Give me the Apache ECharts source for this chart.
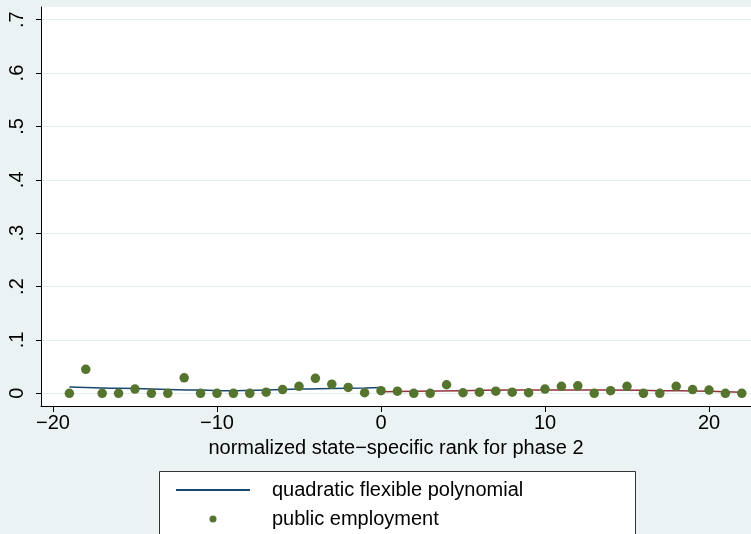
<!DOCTYPE html>
<html>
<head>
<meta charset="utf-8">
<script src="https://cdn.jsdelivr.net/npm/echarts@6/dist/echarts.min.js"></script>
<style>html,body{margin:0;padding:0;background:#eaf2f3;}#c{width:751px;height:534px;}</style>
</head>
<body>
<div id="c"></div>
<script>
// normalized rank (x) and public employment share (y)
const rank = [-19,-18,-17,-16,-15,-14,-13,-12,-11,-10,-9,-8,-7,-6,-5,-4,-3,-2,-1,0,1,2,3,4,5,6,7,8,9,10,11,12,13,14,15,16,17,18,19,20,21,22];
const employment = [0,0.045,0,0,0.008,0,0,0.029,0,0,0,0,0.002,0.007,0.013,0.028,0.017,0.011,0.001,0.005,0.004,0,0,0.016,0.001,0.002,0.004,0.002,0.001,0.008,0.013,0.014,0,0.005,0.013,0,0,0.013,0.007,0.006,0,0];
// quadratic fit, left of cutoff
const fitLeftX = [-19,-17,-15,-13,-11,-9,-7,-5,-3,-1,0];
const fitLeftY = [0.012,0.010,0.009,0.007,0.006,0.005,0.006,0.008,0.009,0.010,0.011];
// quadratic fit, right of cutoff
const fitRightX = [0,2,5,8,11,14,17,20,22];
const fitRightY = [0.003,0.004,0.005,0.006,0.006,0.006,0.005,0.004,0.002];
const xTicks = [-20,-10,0,10,20];
const yTicks = [0,0.1,0.2,0.3,0.4,0.5,0.6,0.7];

const FONT = 'Liberation Sans, Arial, sans-serif';
const chart = echarts.init(document.getElementById('c'), null, {renderer:'canvas'});
const zip = (a,b)=>a.map((v,i)=>[v,b[i]]);
chart.setOption({
  backgroundColor:'#eaf2f3',
  animation:false,
  textStyle:{fontFamily:FONT},
  grid:{left:41, top:7, right:0, bottom:128, show:true, backgroundColor:'#ffffff', borderWidth:0},
  xAxis:{
    type:'value', min:-20.73, max:22.56,
    name:'normalized state\u2212specific rank for phase 2',
    nameLocation:'middle', nameGap:32,
    nameTextStyle:{fontSize:20, color:'#000', fontFamily:FONT},
    axisLine:{show:true, onZero:false, lineStyle:{color:'#000', width:1}},
    axisTick:{show:true, length:6, customValues:xTicks, lineStyle:{color:'#000'}},
    axisLabel:{customValues:xTicks, fontSize:20, color:'#000', margin:7, fontFamily:FONT,
      formatter:v=>String(v).replace('-','\u2212')},
    splitLine:{show:false}
  },
  yAxis:{
    type:'value', min:-0.0238, max:0.7238,
    axisLine:{show:true, onZero:false, lineStyle:{color:'#000', width:1}},
    axisTick:{show:true, length:5, customValues:yTicks, lineStyle:{color:'#000'}},
    axisLabel:{customValues:yTicks, fontSize:20, color:'#000', rotate:90, margin:14, fontFamily:FONT,
      formatter:v=>{ if (Math.abs(v)<1e-9) return '0'; return String(Math.round(v*10)/10).replace(/^0\./,'.'); }},
    splitLine:{show:true, lineStyle:{color:'#e3ecee', width:1}}
  },
  legend:[
    {data:[{name:'quadratic flexible polynomial', icon:'rect'}], left:176, top:480, padding:0,
     itemWidth:74, itemHeight:2, selectedMode:false,
     textStyle:{fontSize:20, color:'#000', fontFamily:FONT, padding:[0,0,0,17]}},
    {data:[{name:'public employment', icon:'circle'}], left:209.5, top:509, padding:0,
     itemWidth:74, itemHeight:7, selectedMode:false,
     textStyle:{fontSize:20, color:'#000', fontFamily:FONT, padding:[0,0,0,17]}}
  ],
  graphic:[{type:'rect', z:-1, shape:{x:159.5, y:471.5, width:476, height:70},
    style:{fill:'#ffffff', stroke:'#333333', lineWidth:1}}],
  series:[
    {name:'quadratic flexible polynomial', type:'line', data:zip(fitLeftX,fitLeftY), smooth:true,
     showSymbol:false, symbol:'none', lineStyle:{color:'#1a476f', width:1.5}, itemStyle:{color:'#1a476f'}, z:2},
    {name:'fit right', type:'line', data:zip(fitRightX,fitRightY), smooth:true,
     showSymbol:false, symbol:'none', lineStyle:{color:'#90353b', width:1.5}, itemStyle:{color:'#90353b'}, z:2},
    {name:'public employment', type:'scatter', data:zip(rank,employment), symbolSize:9.5,
     itemStyle:{color:'#55752f', opacity:1}, z:3}
  ]
});
</script>
</body>
</html>
